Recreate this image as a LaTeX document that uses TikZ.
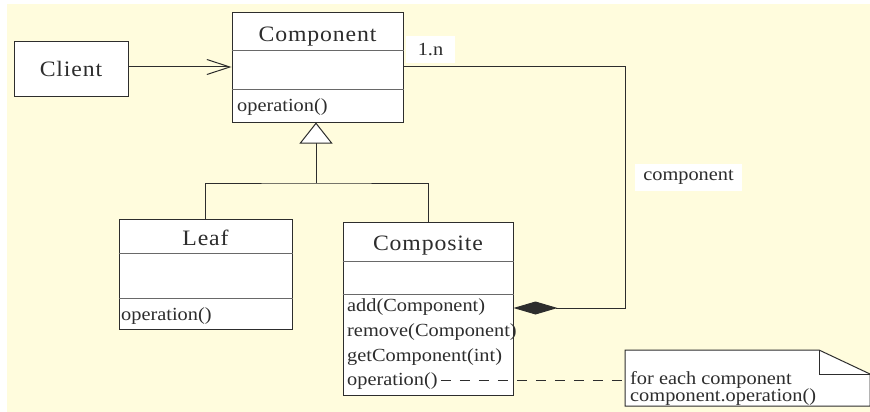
\documentclass[tikz,border=0pt]{standalone}
\usepackage{fontspec}
\setmainfont{Liberation Serif}[FakeStretch=1.1]
\newfontfamily\classfont{Liberation Serif}[FakeStretch=1.08, LetterSpace=4]
\usetikzlibrary{arrows.meta}

\definecolor{paper}{RGB}{255,252,221}
\definecolor{ink}{RGB}{45,45,45}
\definecolor{rule}{RGB}{105,105,105}

\tikzset{
  classbox/.style={draw=ink, fill=white, line width=1pt, inner sep=0pt, rectangle},
  divider/.style={draw=rule, line width=1pt},
  classname/.style={font=\classfont\fontsize{22}{26}\selectfont, inner sep=0pt, anchor=base, text=ink},
  member/.style={font=\fontsize{18.5}{22}\selectfont, inner sep=0pt, anchor=base west, text=ink},
  wire/.style={draw=ink, line width=1pt},
  tag/.style={fill=white, inner sep=0pt, text=ink, font=\fontsize{18.5}{22}\selectfont},
  notebox/.style={draw=ink, fill=white, line width=1pt, line join=miter},
}

\begin{document}
\begin{tikzpicture}[x=1pt, y=-1pt]
  % page and paper
  \fill[white] (0,0) rectangle (870,412);
  \fill[paper] (7,4) rectangle (870,412);
  \useasboundingbox (0,0) rectangle (870,412);

  % class boxes
  \node[classbox, minimum width=114pt, minimum height=54pt]  (client)    at (71,69)    {};
  \node[classbox, minimum width=171pt, minimum height=109pt] (comp)      at (317.5,67.5) {};
  \node[classbox, minimum width=173pt, minimum height=110pt] (leaf)      at (205.5,274) {};
  \node[classbox, minimum width=170pt, minimum height=173pt] (composite) at (428,308.5) {};

  % compartment dividers
  \draw[divider] (comp.west |- 0,51) -- (comp.east |- 0,51);
  \draw[divider] (comp.west |- 0,89) -- (comp.east |- 0,89);
  \draw[divider] (leaf.west |- 0,253) -- (leaf.east |- 0,253);
  \draw[divider] (leaf.west |- 0,298) -- (leaf.east |- 0,298);
  \draw[divider] (composite.west |- 0,261) -- (composite.east |- 0,261);
  \draw[divider] (composite.west |- 0,294) -- (composite.east |- 0,294);

  % class names
  \node[classname] (clientname)    at (71,76.5)  {Client};
  \node[classname] (compname)      at (317.5,41.5) {Component};
  \node[classname] (leafname)      at (205.5,245) {Leaf};
  \node[classname] (compositename) at (428,250)  {Composite};

  % operations
  \node[member] (compop)  at (237,111) {operation()};
  \node[member] (leafop)  at (121,320) {operation()};
  \node[member] (addop)   at (347,311) {add(Component)};
  \node[member] (remop)   at (347,336) {remove(Component)};
  \node[member] (getop)   at (347,361) {getComponent(int)};
  \node[member] (opop)    at (347,385) {operation()};

  % client association
  \draw[wire, -{Straight Barb[length=23pt, width=15pt]}] (client.east |- 0,67) -- (comp.west |- 0,67);

  % generalization
  \coordinate (fork) at (316,183);
  \draw[wire, -{Triangle[open, length=21pt, width=33pt, fill=white]}] (fork) -- (comp.south -| fork);
  \draw[wire] (leaf.north) |- (fork) -| (composite.north);

  % aggregation of children
  \coordinate (aggtop) at (625,67);
  \coordinate (aggbot) at (625,308);
  \draw[wire, {Diamond[length=44pt, width=13pt]}-] (composite.east |- aggbot) -- (aggbot) -- (aggtop) -- (comp.east |- aggtop);

  % role labels
  \node[tag, minimum width=49pt, minimum height=27pt] (mult) at (430.5,49.5) {1.n};
  \node[tag, minimum width=107pt, minimum height=27pt] (role) at (688.5,177.5) {component};

  % note
  \draw[notebox] (625,350) -- (819,350) -- (870,374) -- (870,406) -- (625,406) -- cycle;
  \draw[wire] (819,350) -- (819,374) -- (870,374);
  \node[member] (note1) at (630,384) {for each component};
  \node[member] (note2) at (630,401.5) {component.operation()};
  \coordinate (notein) at (625,380);
  \draw[wire, dash pattern=on 10pt off 9pt] (opop.east |- notein) ++(3,0) -- (notein);
\end{tikzpicture}
\end{document}
